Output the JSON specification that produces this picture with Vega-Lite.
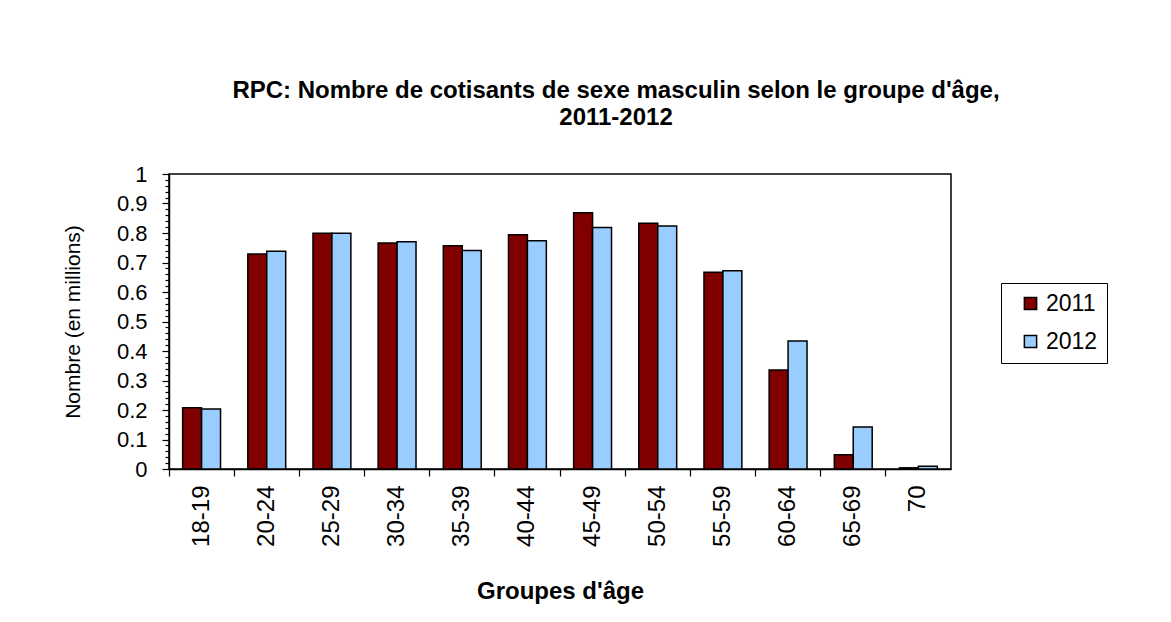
{
  "$schema": "https://vega.github.io/schema/vega-lite/v6.json",
  "autosize": {"type": "none"},
  "width": 782,
  "height": 295,
  "padding": {"left": 169, "top": 174, "right": 220, "bottom": 153},
  "background": "white",
  "config": {
    "font": "Liberation Sans",
    "view": {"stroke": "black", "strokeWidth": 1.5}
  },
  "title": {
    "text": ["RPC: Nombre de cotisants de sexe masculin selon le groupe d'âge,", "2011-2012"],
    "font": "Liberation Sans",
    "fontSize": 24,
    "fontWeight": "bold",
    "color": "black",
    "anchor": "middle",
    "dx": 56,
    "offset": 33,
    "lineHeight": 27
  },
  "data": {
    "values": [
      {"age": "18-19", "year": "2011", "value": 0.208},
      {"age": "18-19", "year": "2012", "value": 0.203},
      {"age": "20-24", "year": "2011", "value": 0.729},
      {"age": "20-24", "year": "2012", "value": 0.738},
      {"age": "25-29", "year": "2011", "value": 0.799},
      {"age": "25-29", "year": "2012", "value": 0.799},
      {"age": "30-34", "year": "2011", "value": 0.766},
      {"age": "30-34", "year": "2012", "value": 0.770},
      {"age": "35-39", "year": "2011", "value": 0.757},
      {"age": "35-39", "year": "2012", "value": 0.741},
      {"age": "40-44", "year": "2011", "value": 0.794},
      {"age": "40-44", "year": "2012", "value": 0.774},
      {"age": "45-49", "year": "2011", "value": 0.869},
      {"age": "45-49", "year": "2012", "value": 0.819},
      {"age": "50-54", "year": "2011", "value": 0.833},
      {"age": "50-54", "year": "2012", "value": 0.824},
      {"age": "55-59", "year": "2011", "value": 0.667},
      {"age": "55-59", "year": "2012", "value": 0.672},
      {"age": "60-64", "year": "2011", "value": 0.336},
      {"age": "60-64", "year": "2012", "value": 0.434},
      {"age": "65-69", "year": "2011", "value": 0.048},
      {"age": "65-69", "year": "2012", "value": 0.142},
      {"age": "70", "year": "2011", "value": 0.004},
      {"age": "70", "year": "2012", "value": 0.009}
    ]
  },
  "mark": {"type": "bar", "stroke": "black", "strokeWidth": 1.5},
  "encoding": {
    "x": {
      "field": "age",
      "type": "nominal",
      "sort": null,
      "scale": {"paddingInner": 0, "paddingOuter": 0},
      "axis": {
        "title": "Groupes d'âge",
        "titleFont": "Liberation Sans",
        "titleFontSize": 24,
        "titleFontWeight": "bold",
        "titleColor": "black",
        "titlePadding": 33,
        "bandPosition": 0,
        "labelAngle": -90,
        "labelAlign": "right",
        "labelBaseline": "middle",
        "labelFontSize": 24,
        "labelColor": "black",
        "labelPadding": 9,
        "tickSize": 7,
        "tickColor": "black",
        "tickWidth": 1.2,
        "domainColor": "black",
        "domainWidth": 1.5
      }
    },
    "xOffset": {
      "field": "year",
      "type": "nominal",
      "scale": {"paddingInner": 0, "paddingOuter": 0.72}
    },
    "y": {
      "field": "value",
      "type": "quantitative",
      "scale": {"domain": [0, 1], "nice": false},
      "axis": {
        "title": "Nombre (en millions)",
        "titleFont": "Liberation Sans",
        "titleFontSize": 21,
        "titleFontWeight": "normal",
        "titleColor": "black",
        "titlePadding": 33,
        "values": [0, 0.02, 0.04, 0.06, 0.08, 0.1, 0.12, 0.14, 0.16, 0.18, 0.2, 0.22, 0.24, 0.26, 0.28, 0.3, 0.32, 0.34, 0.36, 0.38, 0.4, 0.42, 0.44, 0.46, 0.48, 0.5, 0.52, 0.54, 0.56, 0.58, 0.6, 0.62, 0.64, 0.66, 0.68, 0.7, 0.72, 0.74, 0.76, 0.78, 0.8, 0.82, 0.84, 0.86, 0.88, 0.9, 0.92, 0.94, 0.96, 0.98, 1],
        "labelExpr": "abs(datum.value*10 - round(datum.value*10)) < 0.000001 ? format(datum.value, '~g') : ''",
        "labelOverlap": false,
        "labelFontSize": 22,
        "labelColor": "black",
        "labelPadding": 15,
        "tickSize": {"condition": {"test": "abs(datum.value*10 - round(datum.value*10)) < 0.000001", "value": 7}, "value": 4},
        "tickColor": "black",
        "tickWidth": 1.2,
        "domainColor": "black",
        "domainWidth": 1.5,
        "grid": false
      }
    },
    "color": {
      "field": "year",
      "type": "nominal",
      "scale": {"domain": ["2011", "2012"], "range": ["#800000", "#99CCFF"]},
      "legend": {
        "title": null,
        "orient": "none",
        "legendX": 832,
        "legendY": 109,
        "direction": "vertical",
        "symbolType": "square",
        "symbolSize": 150,
        "symbolStrokeColor": "black",
        "symbolStrokeWidth": 1.5,
        "symbolOpacity": 1,
        "labelFontSize": 23,
        "labelColor": "black",
        "labelOffset": 4,
        "rowPadding": 14,
        "padding": 9,
        "symbolOffset": 9,
        "strokeColor": "black",
        "fillColor": "white"
      }
    }
  }
}
